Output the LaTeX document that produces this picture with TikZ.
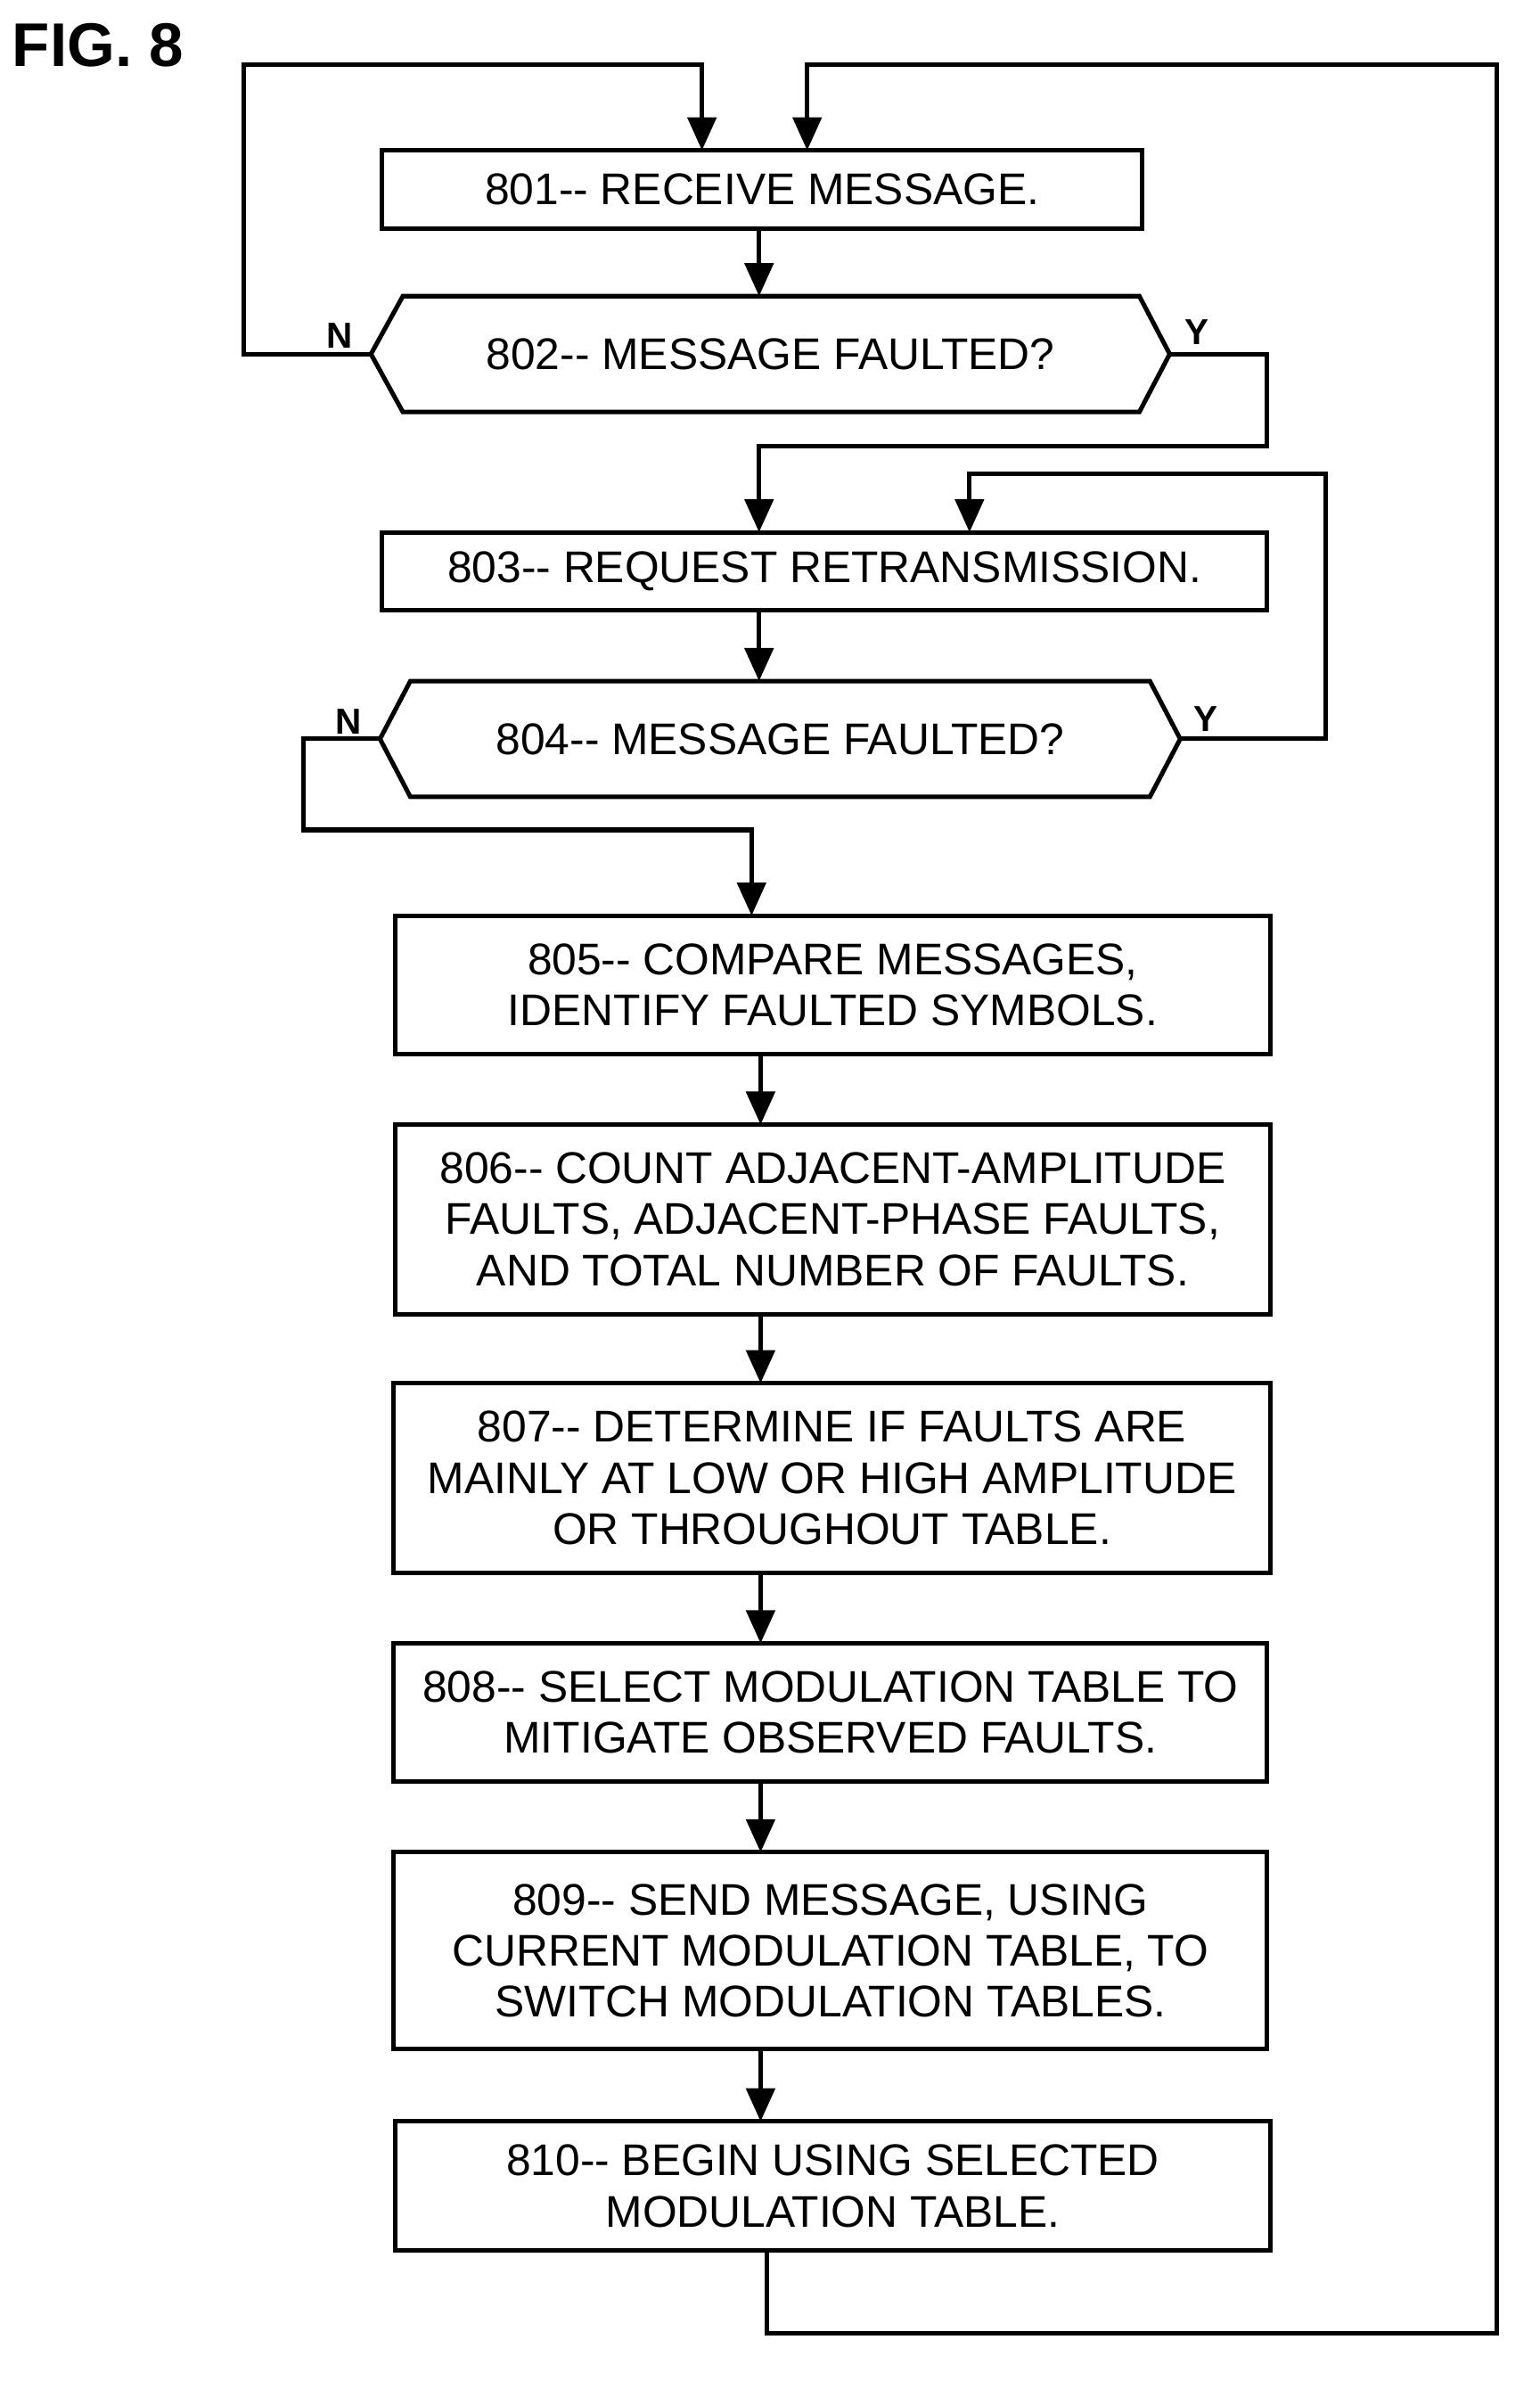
\documentclass[tikz,border=0pt]{standalone}
\usepackage{fontspec}
\setmainfont{Liberation Sans}
\usetikzlibrary{arrows.meta}
\begin{document}
\begin{tikzpicture}[x=1pt,y=-1pt,
  every node/.style={inner sep=0pt,align=center,font=\fontsize{29.5}{34}\selectfont},
  box/.style={draw,line width=3pt,minimum width=#1},
  ln/.style={line width=3pt},
  ar/.style={line width=3pt,-{Triangle[length=22pt,width=19pt]}},
  lab/.style={font=\fontsize{24}{26}\selectfont\bfseries}]
\useasboundingbox (0,0) rectangle (1024,1589);
\node[font=\fontsize{41}{44}\selectfont\bfseries,anchor=west] (fig) at (8,30) {FIG. 8};
\node[box=506pt,minimum height=52pt] (b801) at (507,126) {801-{}- RECEIVE MESSAGE.};
\node[minimum width=531pt,minimum height=77pt] (d802) at (512.5,235.5) {802-{}- MESSAGE FAULTED?};
\draw[ln] (d802.west) -- (268,197) -- (758,197) -- (d802.east) -- (758,274) -- (268,274) -- cycle;
\node[box=589pt,minimum height=52pt] (b803) at (548.5,380) {803-{}- REQUEST RETRANSMISSION.};
\node[minimum width=532pt,minimum height=77pt] (d804) at (519,491.5) {804-{}- MESSAGE FAULTED?};
\draw[ln] (d804.west) -- (273,453) -- (765,453) -- (d804.east) -- (765,530) -- (273,530) -- cycle;
\node[box=582pt,minimum height=92pt] (b805) at (554,655) {805-{}- COMPARE MESSAGES,\\IDENTIFY FAULTED SYMBOLS.};
\node[box=582pt,minimum height=126pt] (b806) at (554,811) {806-{}- COUNT ADJACENT-AMPLITUDE\\FAULTS, ADJACENT-PHASE FAULTS,\\AND TOTAL NUMBER OF FAULTS.};
\node[box=583pt,minimum height=126pt] (b807) at (553.5,983) {807-{}- DETERMINE IF FAULTS ARE\\MAINLY AT LOW OR HIGH AMPLITUDE\\OR THROUGHOUT TABLE.};
\node[box=581pt,minimum height=92pt] (b808) at (552.5,1139) {808-{}- SELECT MODULATION TABLE TO\\MITIGATE OBSERVED FAULTS.};
\node[box=581pt,minimum height=131pt] (b809) at (552.5,1297.5) {809-{}- SEND MESSAGE, USING\\CURRENT MODULATION TABLE, TO\\SWITCH MODULATION TABLES.};
\node[box=582pt,minimum height=86pt] (b810) at (554,1454) {810-{}- BEGIN USING SELECTED\\MODULATION TABLE.};
% labels
\node[lab] (n1) at (226,223) {N};
\node[lab] (y1) at (796,221) {Y};
\node[lab] (n2) at (232,480) {N};
\node[lab] (y2) at (802,478) {Y};
% connectors
\coordinate (t1) at (467,100);
\coordinate (t2) at (537,100);
\draw[ar] (b810.south -| 510,0) -- (510,1552) -- (996,1552) -- (996,43) -- (537,43) -- (t2);
\draw[ar] (d802.west) -- (162,235.5) -- (162,43) -- (467,43) -- (t1);
\draw[ar] (505,152) -- (505,197);
\draw[ar] (d802.east) -- (843,235.5) -- (843,297) -- (505,297) -- (505,354);
\draw[ar] (d804.east) -- (882,491.5) -- (882,315) -- (645,315) -- (645,354);
\draw[ar] (505,406) -- (505,453);
\draw[ar] (d804.west) -- (202,491.5) -- (202,552) -- (500,552) -- (500,609);
\draw[ar] (506,701) -- (506,748);
\draw[ar] (506,874) -- (506,920);
\draw[ar] (506,1046) -- (506,1093);
\draw[ar] (506,1185) -- (506,1232);
\draw[ar] (506,1363) -- (506,1411);
\end{tikzpicture}
\end{document}
